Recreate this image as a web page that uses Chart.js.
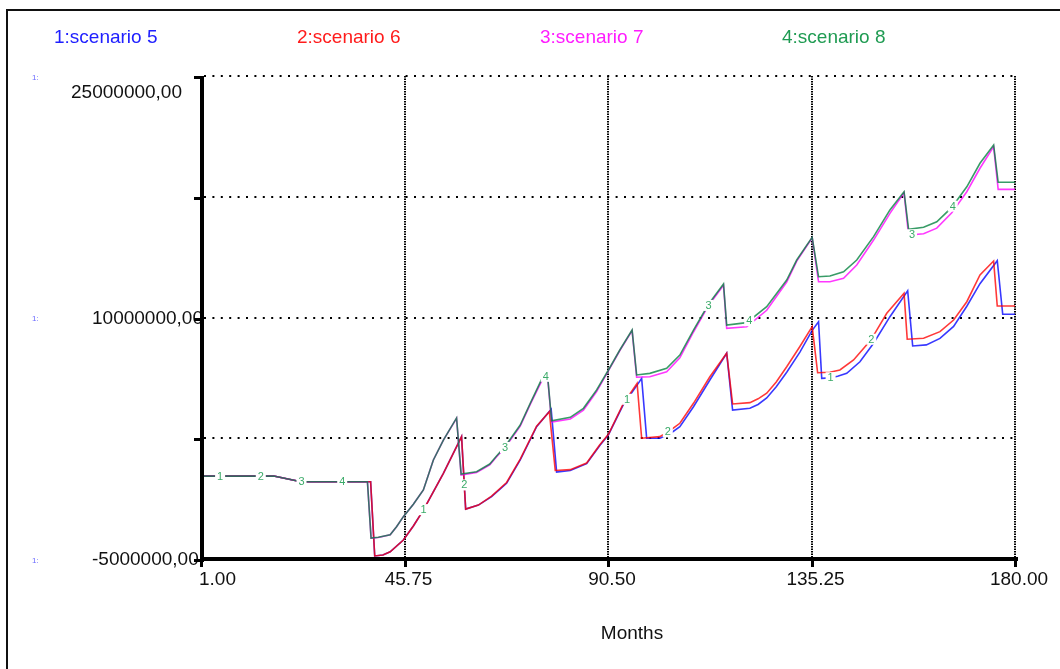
<!DOCTYPE html>
<html>
<head>
<meta charset="utf-8">
<script src="https://cdn.jsdelivr.net/npm/chart.js@4/dist/chart.umd.min.js"></script>
<style>
  html, body { margin: 0; padding: 0; background: #fff; }
  canvas { display: block; }
</style>
</head>
<body>
<canvas id="c" width="1060" height="669"></canvas>
<script>
// Axis ticks (months and values in millions)
const xTicks = [1, 45.75, 90.5, 135.25, 180];
const yTicks = [-5, 2.5, 10, 17.5, 25];
const yLabelled = [25, 10, -5];
const seriesNames = ['1:scenario 5', '2:scenario 6', '3:scenario 7', '4:scenario 8'];
const axisTitle = 'Months';

// scenario 5
const s5Months = [1, 17, 23, 38.3, 39.2, 41, 42.6, 45.5, 47.7, 49.9, 54.3, 58.3, 59.2, 62, 64.9, 68.2, 71.2, 74.8, 78, 79.2,
  82.2, 85.8, 88.7, 90.6, 93.9, 96.9, 97.9, 99.0, 101.9, 104, 106.3, 109.3, 112.9, 116.6, 117.9, 121.7, 123.5, 125.4, 127.5, 129.8, 132.7,
  135.4, 136.8, 137.5, 139.3, 141, 143, 145.9, 148.9, 152.5, 156.4, 157.5, 160.5, 163.5, 166.5, 169.4, 172.3, 176.1, 177.3, 180];
const s5Values = [0.15, 0.15, -0.2, -0.2, -4.81, -4.75, -4.55, -3.82, -2.95, -1.96, 0.32, 2.6, -1.9, -1.65, -1.13, -0.30, 1.15, 3.22, 4.3, 0.40,
  0.50, 0.92, 2.05, 2.72, 4.6, 5.8, 6.22, 2.5, 2.5, 2.75, 3.22, 4.46, 6.12, 7.78, 4.25, 4.36, 4.6, 5.0, 5.7, 6.6, 7.85,
  9.2, 9.74, 6.22, 6.25, 6.35, 6.53, 7.25, 8.40, 10.05, 11.66, 8.23, 8.3, 8.7, 9.45, 10.7, 12.1, 13.53, 10.2, 10.2];

// scenario 6
const s6Months = [1, 17, 23, 38.3, 39.2, 41, 42.6, 45.5, 47.7, 49.9, 54.3, 58.3, 59.2, 62, 64.9, 68.2, 71.2, 74.8, 77.6, 78.9,
  82.2, 85.8, 88.7, 90.6, 93.9, 96.9, 97.9, 101.9, 104, 106.3, 109.3, 112.9, 116.6, 117.9, 121.7, 123.5, 125.4, 127.5, 129.8, 132.7, 135.4,
  136.6, 139.3, 141.5, 144.5, 148.3, 151.8, 155.6, 156.3, 159.9, 163.5, 166.5, 169.4, 172.3, 175.3, 176.1, 180];
const s6Values = [0.15, 0.15, -0.2, -0.2, -4.81, -4.75, -4.55, -3.82, -2.95, -1.96, 0.32, 2.6, -1.9, -1.65, -1.1, -0.25, 1.2, 3.25, 4.15, 0.5,
  0.55, 0.96, 2.1, 2.75, 4.67, 5.91, 2.5, 2.6, 2.95, 3.43, 4.67, 6.32, 7.78, 4.63, 4.71, 4.95, 5.30, 6.0, 6.94, 8.2, 9.43,
  6.57, 6.6, 6.74, 7.36, 8.60, 10.26, 11.50, 8.65, 8.71, 9.12, 9.84, 10.98, 12.64, 13.51, 10.71, 10.71];

// scenario 7
const s7Months = [1, 17, 23, 37.6, 38.4, 40, 42.6, 44, 45.5, 47.7, 49.9, 52.1, 54.3, 57.2, 58.2, 61.6, 64.5, 66, 67.9, 71.2, 73.4,
  75.9, 77.2, 78.1, 82.2, 85.1, 88, 90.6, 93.1, 95.8, 96.8, 99.7, 103.4, 106.3, 109.3, 112.6, 115.9, 116.6, 121, 125.4,
  129.8, 132, 135.4, 136.8, 139.3, 142.3, 145.2, 148.9, 152.5, 155.6, 156.6, 159.9, 162.8, 166.1, 169.4, 172.3, 175.3, 176.3, 180];
const s7Values = [0.15, 0.15, -0.2, -0.2, -3.70, -3.66, -3.5, -3.0, -2.37, -1.6, -0.71, 1.15, 2.39, 3.74, 0.22, 0.38, 0.85, 1.35, 1.94, 3.25, 4.6,
  6.05, 6.35, 3.5, 3.7, 4.25, 5.4, 6.7, 7.95, 9.18, 6.29, 6.32, 6.63, 7.5, 9.1, 10.75, 12.0, 9.33, 9.43, 10.45,
  12.2, 13.5, 14.95, 12.22, 12.22, 12.43, 13.26, 14.81, 16.47, 17.75, 15.12, 15.2, 15.55, 16.5, 17.81, 19.27, 20.61, 17.96, 17.96];

// scenario 8
const s8Months = [1, 17, 23, 37.6, 38.4, 40, 42.6, 44, 45.5, 47.7, 49.9, 52.1, 54.3, 57.2, 58.2, 61.6, 64.5, 66, 67.9, 71.2, 73.4,
  75.9, 77.2, 78.1, 82.2, 85.1, 88, 90.6, 93.1, 95.8, 96.8, 99.7, 103.4, 106.3, 109.3, 112.6, 115.9, 116.6, 121, 125.4,
  129.8, 132, 135.4, 136.8, 139.3, 142.3, 145.2, 148.9, 152.5, 155.6, 156.6, 159.9, 162.8, 166.1, 169.4, 172.3, 175.3, 176.3, 180];
const s8Values = [0.15, 0.15, -0.2, -0.2, -3.70, -3.65, -3.5, -3.0, -2.37, -1.6, -0.71, 1.15, 2.39, 3.76, 0.28, 0.42, 0.9, 1.4, 2.0, 3.32, 4.67,
  6.16, 6.43, 3.59, 3.80, 4.36, 5.50, 6.74, 7.98, 9.22, 6.43, 6.53, 6.84, 7.67, 9.22, 10.82, 12.08, 9.53, 9.68, 10.67,
  12.33, 13.57, 14.98, 12.53, 12.58, 12.84, 13.57, 15.02, 16.68, 17.81, 15.48, 15.60, 15.95, 16.84, 18.12, 19.58, 20.71, 18.40, 18.40];

const FONT = "'Liberation Sans', Arial, sans-serif";
const lineColors = ['rgba(0,0,255,0.78)', 'rgba(255,0,0,0.78)', 'rgba(255,0,255,0.78)', 'rgba(0,128,60,0.78)'];
const textColors = ['#2020ff', '#ff1c1c', '#ff1cff', '#1f9b52'];
const legendX = [54, 297, 540, 782];

const pts = (ms, vs) => ms.map((m, i) => ({ x: m, y: vs[i] }));

// Pixel y of a drawn dataset at pixel x, read from its rendered points
function yOnLine(meta, px) {
  const d = meta.data;
  for (let i = 1; i < d.length; i++) {
    if (d[i].x >= px) {
      const a = d[i - 1], b = d[i];
      const t = b.x === a.x ? 1 : (px - a.x) / (b.x - a.x);
      return a.y + t * (b.y - a.y);
    }
  }
  return d[d.length - 1].y;
}

const fmt = v => (v * 1e6).toFixed(2).replace('.', ',');

const decor = {
  id: 'decor',
  beforeDatasetsDraw(chart) {
    const { ctx, scales: { x, y }, chartArea: a } = chart;
    ctx.save();
    ctx.strokeStyle = '#000';
    // horizontal dotted grid
    ctx.lineWidth = 2;
    ctx.setLineDash([2, 6.4]);
    yTicks.forEach(v => {
      if (v === yTicks[0]) return;
      const py = Math.round(y.getPixelForValue(v));
      ctx.beginPath(); ctx.moveTo(a.left + 3, py); ctx.lineTo(a.right, py); ctx.stroke();
    });
    // vertical dotted grid
    ctx.lineWidth = 2;
    ctx.strokeStyle = '#000';
    ctx.setLineDash([1.5, 1]);
    xTicks.slice(1).forEach(v => {
      const px = Math.round(x.getPixelForValue(v));
      ctx.beginPath(); ctx.moveTo(px, a.top); ctx.lineTo(px, a.bottom); ctx.stroke();
    });
    ctx.restore();
  },
  afterDatasetsDraw(chart) {
    const { ctx, scales: { x, y }, chartArea: a } = chart;
    ctx.save();

    // series number markers
    ctx.font = '11px ' + FONT;
    ctx.textAlign = 'center';
    ctx.textBaseline = 'middle';
    for (let g = 0; g < 4; g++) {
      for (let k = 0; k < 4; k++) {
        const m = xTicks[g] + 4.2 + k * 8.95;
        const px = x.getPixelForValue(m);
        const py = yOnLine(chart.getDatasetMeta(k), px);
        ctx.fillStyle = '#fff';
        ctx.fillRect(px - 5, py - 5.5, 10, 11);
        ctx.fillStyle = '#3aaa68';
        ctx.fillText(String(k + 1), px, py + 0.5);
      }
    }

    // y labels
    ctx.font = '19px ' + FONT;
    ctx.fillStyle = '#111';
    ctx.textBaseline = 'middle';
    yLabelled.forEach(v => {
      const py = y.getPixelForValue(v);
      if (v === yTicks[yTicks.length - 1]) {
        ctx.textAlign = 'right';
        ctx.fillText(fmt(v), 182, py + 17);
      } else {
        ctx.textAlign = 'left';
        ctx.fillText(fmt(v), 92, py + 1);
      }
    });

    // small series markers on value axis
    ctx.font = '8px ' + FONT;
    ctx.fillStyle = '#6b6bff';
    ctx.textAlign = 'left';
    yLabelled.forEach(v => {
      ctx.fillText('1:', 32, y.getPixelForValue(v) + 1.5);
    });

    // x labels
    ctx.font = '19px ' + FONT;
    ctx.fillStyle = '#111';
    xTicks.forEach((v, i) => {
      const px = x.getPixelForValue(v);
      if (i === 0) { ctx.textAlign = 'left'; ctx.fillText(v.toFixed(2), px - 2, 580); }
      else { ctx.textAlign = 'center'; ctx.fillText(v.toFixed(2), px + 4, 580); }
    });
    ctx.textAlign = 'center';
    ctx.fillText(axisTitle, 632, 634);

    // axes
    ctx.fillStyle = '#000';
    const yb = y.getPixelForValue(yTicks[0]);
    ctx.fillRect(a.left - 1, a.top, 4, yb - a.top + 3);
    ctx.fillRect(a.left - 1, yb - 2, x.getPixelForValue(xTicks[xTicks.length - 1]) - a.left + 4, 4);
    yTicks.forEach(v => {
      const py = Math.round(y.getPixelForValue(v));
      ctx.fillRect(a.left - 7, py, 7, 3);
    });
    xTicks.forEach(v => {
      const px = Math.round(x.getPixelForValue(v));
      ctx.fillRect(px - 1, yb, 3, 8);
    });

    // legend
    ctx.font = '19px ' + FONT;
    ctx.textAlign = 'left';
    ctx.textBaseline = 'alphabetic';
    seriesNames.forEach((n, i) => {
      ctx.fillStyle = textColors[i];
      ctx.fillText(n, legendX[i], 42.5);
    });

    // outer frame
    ctx.strokeStyle = '#111';
    ctx.lineWidth = 2;
    ctx.setLineDash([]);
    ctx.beginPath();
    ctx.moveTo(7, 669); ctx.lineTo(7, 10); ctx.lineTo(1060, 10);
    ctx.stroke();
    ctx.restore();
  }
};

const mk = (label, ms, vs, i, order) => ({
  label, data: pts(ms, vs), borderColor: lineColors[i], borderWidth: 1.6,
  pointRadius: 0, tension: 0, fill: false, order
});

new Chart(document.getElementById('c'), {
  type: 'line',
  data: {
    datasets: [
      mk(seriesNames[0], s5Months, s5Values, 0, 4),
      mk(seriesNames[1], s6Months, s6Values, 1, 3),
      mk(seriesNames[2], s7Months, s7Values, 2, 2),
      mk(seriesNames[3], s8Months, s8Values, 3, 1)
    ]
  },
  options: {
    responsive: false,
    animation: false,
    events: [],
    layout: { padding: { left: 201, right: 45, top: 76, bottom: 110 } },
    plugins: { legend: { display: false }, tooltip: { enabled: false } },
    scales: {
      x: { type: 'linear', min: 1, max: 180, display: false },
      y: { type: 'linear', min: -5, max: 25, display: false }
    }
  },
  plugins: [decor]
});
</script>
</body>
</html>
